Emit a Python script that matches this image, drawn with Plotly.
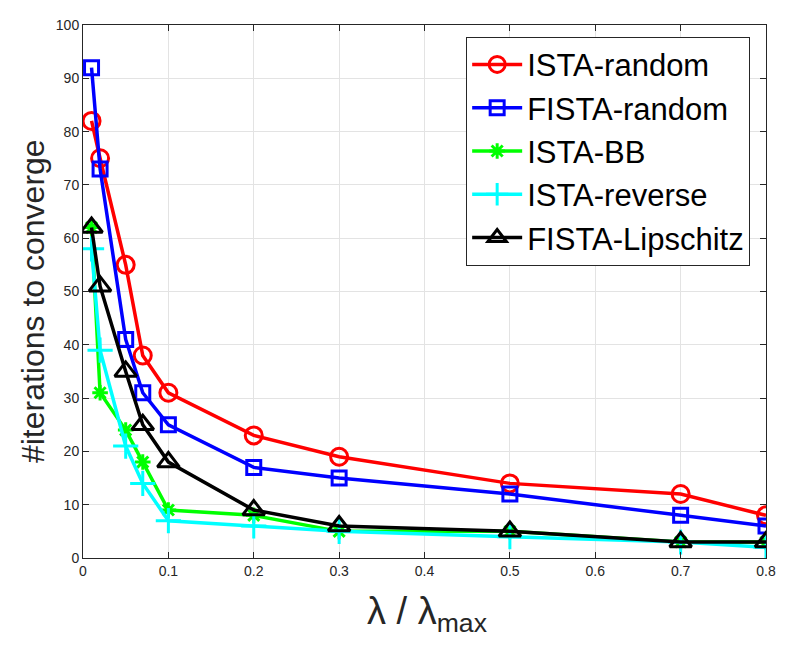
import plotly.graph_objects as go

# lambda / lambda_max
lam_ratio = [0.01, 0.02, 0.05, 0.07, 0.1, 0.2, 0.3, 0.5, 0.7, 0.8]

ista_random = [82, 75, 55, 38, 31, 23, 19, 14, 12, 8]
fista_random = [92, 73, 41, 31, 25, 17, 15, 12, 8, 6]
ista_bb = [62, 31, 24, 18, 9, 8, 5, 5, 3, 3]
ista_reverse = [58, 39, 21, 14, 7, 6, 5, 4, 3, 2]
fista_lipschitz = [62, 51, 35, 25, 18, 9, 6, 5, 3, 3]

x_ticks = [0, 0.1, 0.2, 0.3, 0.4, 0.5, 0.6, 0.7, 0.8]
x_tick_text = ["0", "0.1", "0.2", "0.3", "0.4", "0.5", "0.6", "0.7", "0.8"]
y_ticks = list(range(0, 101, 10))

series = [
    ("ISTA-random", ista_random, "#ff0000", "circle-open", 17),
    ("FISTA-random", fista_random, "#0000ff", "square-open", 14),
    ("ISTA-BB", ista_bb, "#00ff00", "asterisk-open", 13),
    ("ISTA-reverse", ista_reverse, "#00ffff", "cross-thin-open", 18),
    ("FISTA-Lipschitz", fista_lipschitz, "#000000", "triangle-up-open", 19),
]

fig = go.Figure()
for name, vals, col, sym, size in series:
    fig.add_trace(go.Scatter(
        x=lam_ratio, y=vals, name=name, mode="lines+markers",
        line=dict(color=col, width=3.5),
        marker=dict(symbol=sym, size=size, color=col, line=dict(color=col, width=3)),
    ))

font_fam = "Liberation Sans, Arial"
axis_common = dict(
    showgrid=True, gridcolor="#e3e3e3", gridwidth=1,
    showline=True, linecolor="#262626", linewidth=1, mirror="ticks",
    ticks="inside", ticklen=6, tickcolor="#262626", zeroline=False,
    automargin=False,
    tickfont=dict(family=font_fam, size=14, color="#262626"),
)

# page body adds an 8px margin, so the figure is a bit smaller than the window
fig.update_layout(
    width=773, height=632,
    margin=dict(l=75, r=15, t=17, b=82),
    paper_bgcolor="white", plot_bgcolor="white",
    xaxis=dict(range=[0, 0.8], tickvals=x_ticks, ticktext=x_tick_text, **axis_common),
    yaxis=dict(range=[0, 100], tickvals=y_ticks, **axis_common),
    legend=dict(x=0.561, y=0.978, xanchor="left", yanchor="top",
                bgcolor="white", bordercolor="#262626", borderwidth=1,
                font=dict(family=font_fam, size=31, color="black"),
                itemwidth=50, tracegroupgap=0),
    showlegend=True,
)

# axis titles placed by hand so they sit where the original has them
fig.add_annotation(
    text="λ / λ<sub>max</sub>",
    xref="paper", yref="paper", x=0.505, y=0, xanchor="center", yanchor="top",
    yshift=-30, showarrow=False,
    font=dict(family=font_fam, size=38, color="#262626"),
)
fig.add_annotation(
    text="#iterations to converge", textangle=-90,
    xref="paper", yref="paper", x=0, y=0.482, xanchor="center", yanchor="middle",
    xshift=-50, showarrow=False,
    font=dict(family=font_fam, size=32, color="#262626"),
)

fig.write_html("out.html")
